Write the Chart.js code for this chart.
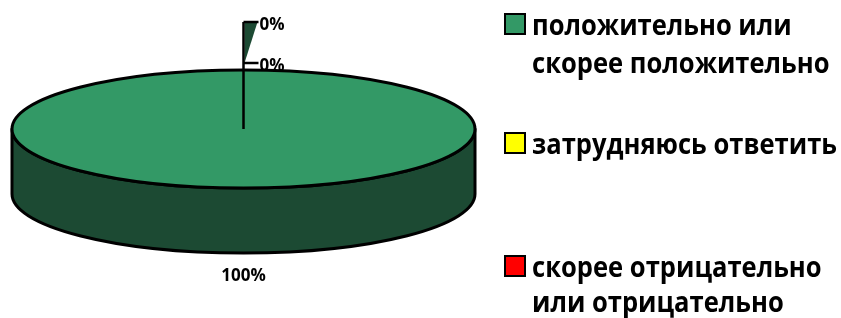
<!DOCTYPE html>
<html>
<head>
<meta charset="utf-8">
<script src="https://cdn.jsdelivr.net/npm/chart.js@4/dist/chart.umd.min.js"></script>
<style>
  html, body { margin: 0; padding: 0; background: #fff; }
  #wrap { position: relative; width: 841px; height: 318px; }
</style>
</head>
<body>
<div id="wrap"><canvas id="pie"></canvas></div>
<script>
// data
const legendLines = [
  ["положительно или", "скорее положительно"],
  ["затрудняюсь ответить"],
  ["скорее отрицательно", "или отрицательно"]
];
const categories = legendLines.map(l => l.join(" "));
const values = [100, 0, 0];
const colors = ["#339966", "#ffff00", "#ff0000"];

// look of the 3d pie
const SIDE = "#1c4a33";
const TX = 243.5, TY = 129, RX = 231.5, RY = 59, DEPTH = 65;
const LABEL_FONT = "bold 17px 'Open Sans'";
const LEGEND_FONT = "bold 29px 'Open Sans'";

function frontParts(a, b) {
  // pieces of [a,b] that lie on the front half (0..PI)
  const out = [];
  for (const off of [-2 * Math.PI, 0, 2 * Math.PI]) {
    const s = Math.max(a + off, 0), e = Math.min(b + off, Math.PI);
    if (e > s) out.push([s, e]);
  }
  return out;
}

const pie3d = {
  id: "pie3d",
  beforeDatasetsDraw(chart) {
    const ctx = chart.ctx;
    const arcs = chart.getDatasetMeta(0).data;
    // sides first
    ctx.save();
    ctx.lineWidth = 3;
    ctx.strokeStyle = "#000";
    ctx.lineJoin = "round";
    arcs.forEach(arc => {
      if (arc.endAngle - arc.startAngle <= 0) return;
      frontParts(arc.startAngle, arc.endAngle).forEach(([s, e]) => {
        ctx.beginPath();
        ctx.ellipse(TX, TY, RX, RY, 0, s, e, false);
        ctx.ellipse(TX, TY + DEPTH, RX, RY, 0, e, s, true);
        ctx.closePath();
        ctx.fillStyle = SIDE;
        ctx.fill();
        ctx.stroke();
      });
    });
    ctx.restore();
    // squash the chart.js circle into the top ellipse
    const a0 = arcs[0];
    const r = a0.outerRadius;
    ctx.save();
    ctx.translate(TX, TY);
    ctx.scale(RX / r, RY / r);
    ctx.translate(-a0.x, -a0.y);
  },
  afterDatasetsDraw(chart) {
    const ctx = chart.ctx;
    ctx.restore();
    const arcs = chart.getDatasetMeta(0).data;
    const total = values.reduce((s, v) => s + v, 0);

    // outline of the top
    ctx.save();
    ctx.lineWidth = 3;
    ctx.strokeStyle = "#000";
    ctx.beginPath();
    ctx.ellipse(TX, TY, RX, RY, 0, 0, Math.PI * 2);
    ctx.stroke();

    // zero slices: leader lines at their angle on the rim
    const zeros = arcs.map((a, i) => i).filter(i => values[i] === 0);
    if (zeros.length) {
      const ang = arcs[zeros[0]].startAngle;
      const rimX = TX + RX * Math.cos(ang), rimY = TY + RY * Math.sin(ang);
      const ticks = [rimY - 7, rimY - 48];
      ctx.fillStyle = SIDE;
      ctx.beginPath();
      ctx.moveTo(rimX + 1, ticks[1]);
      ctx.lineTo(rimX + 14, ticks[1]);
      ctx.lineTo(rimX + 1, ticks[0]);
      ctx.closePath();
      ctx.fill();
      ctx.lineWidth = 2.5;
      ctx.beginPath();
      ctx.moveTo(TX, TY);
      ctx.lineTo(rimX, ticks[1]);
      ctx.stroke();
      ctx.font = LABEL_FONT;
      ctx.textBaseline = "alphabetic";
      ctx.textAlign = "left";
      zeros.forEach((idx, k) => {
        const y = ticks[k] ?? ticks[1];
        ctx.beginPath();
        ctx.moveTo(rimX, y);
        ctx.lineTo(rimX + 15, y);
        ctx.stroke();
        ctx.fillStyle = "#000";
        ctx.fillText(Math.round(values[idx] / total * 100) + "%", rimX + 16, y + 8);
        ctx.fillStyle = SIDE;
      });
    }

    // labels of the non-zero slices, under the side
    ctx.fillStyle = "#000";
    ctx.font = LABEL_FONT;
    ctx.textAlign = "center";
    arcs.forEach((arc, i) => {
      if (values[i] === 0) return;
      let mid = (arc.startAngle + arc.endAngle) / 2;
      if (arc.endAngle - arc.startAngle >= Math.PI * 2 - 1e-6) mid = Math.PI / 2;
      const x = TX + (RX + 20) * Math.cos(mid);
      const y = TY + (RY + 22) * Math.sin(mid) + (Math.sin(mid) > 0 ? DEPTH : 0) + 6;
      ctx.fillText(Math.round(values[i] / total * 100) + "%", x, y);
    });
    ctx.restore();
  },
  afterDraw(chart) {
    // legend
    const ctx = chart.ctx;
    const boxX = 505, textX = 532, maxW = 305;
    const baselines = [[35, 73], [154], [277, 312]];
    ctx.save();
    ctx.font = LEGEND_FONT;
    const widest = Math.max(...legendLines.flat().map(t => ctx.measureText(t).width));
    const k = Math.min(1, maxW / widest);
    legendLines.forEach((lines, i) => {
      const b = baselines[i];
      ctx.fillStyle = colors[i];
      ctx.fillRect(boxX, b[0] - 21, 20, 20);
      ctx.lineWidth = 2;
      ctx.strokeStyle = "#000";
      ctx.strokeRect(boxX, b[0] - 21, 20, 20);
      ctx.fillStyle = "#000";
      lines.forEach((t, j) => {
        ctx.save();
        ctx.translate(textX, b[j]);
        ctx.scale(k, 1);
        ctx.fillText(t, 0, 0);
        ctx.restore();
      });
    });
    ctx.restore();
  }
};

new Chart(document.getElementById("pie"), {
  type: "pie",
  data: {
    labels: categories,
    datasets: [{
      data: values,
      backgroundColor: colors,
      borderWidth: 0,
      clip: false
    }]
  },
  options: {
    responsive: true,
    maintainAspectRatio: false,
    animation: false,
    events: [],
    layout: { padding: 0 },
    plugins: { legend: { display: false }, tooltip: { enabled: false } }
  },
  plugins: [pie3d]
});
</script>
</body>
</html>
